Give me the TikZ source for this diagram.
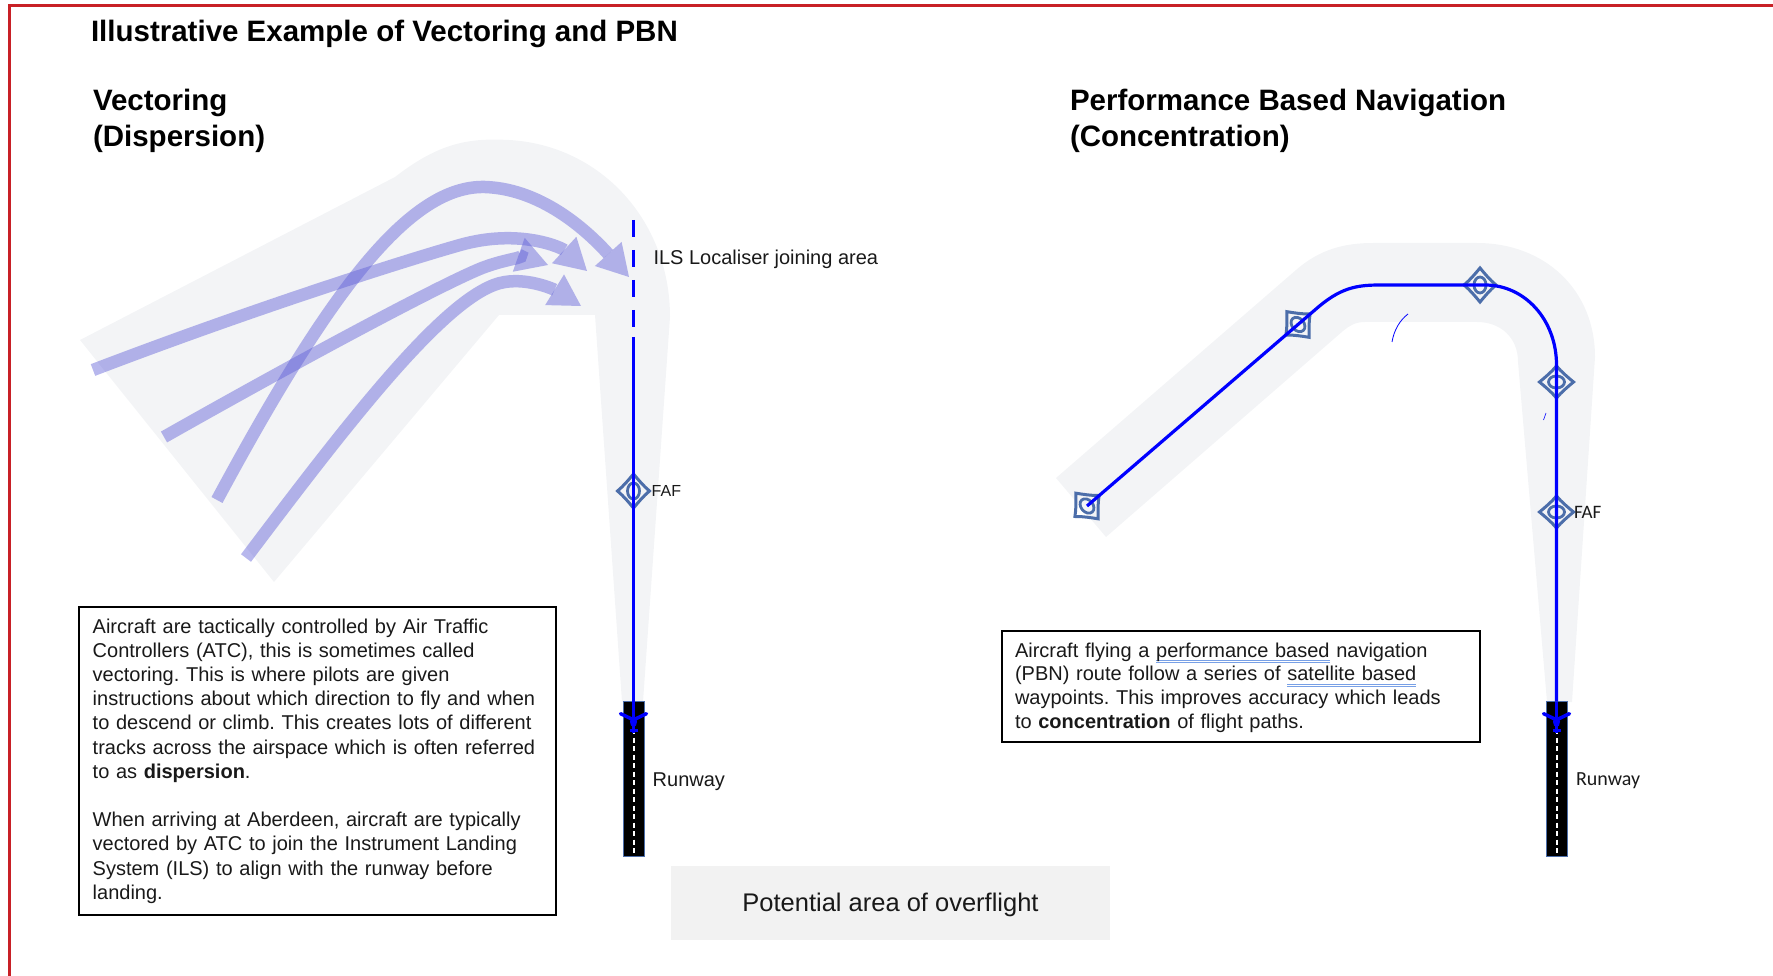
\documentclass[tikz,border=0pt]{standalone}
\usepackage{fontspec}
\setmainfont{Liberation Sans}
\newfontfamily\carlitofont{Carlito}
\usetikzlibrary{arrows.meta}
\definecolor{redborder}{RGB}{200,32,38}
\definecolor{areagray}{RGB}{243,244,246}
\definecolor{boxgray}{RGB}{242,242,242}
\definecolor{routeblue}{RGB}{0,0,255}
\definecolor{wpblue}{RGB}{76,110,170}
\definecolor{vecpurple}{RGB}{95,95,215}
\definecolor{ulblue}{RGB}{120,160,230}
\definecolor{txt}{RGB}{25,25,25}
\newsavebox\ulbox
\newcommand\dblul[1]{\sbox\ulbox{#1}\rlap{\color{ulblue}\rule[-3.6pt]{\wd\ulbox}{0.9pt}}\rlap{\color{ulblue}\rule[-6.2pt]{\wd\ulbox}{0.9pt}}\usebox\ulbox}
\frenchspacing
\begin{document}
\begin{tikzpicture}[x=1pt,y=-1pt,
  hd/.style={anchor=base west, inner sep=0pt, outer sep=0pt, text=black, font=\fontsize{29.5}{35}\selectfont\bfseries},
  lbl/.style={anchor=base west, inner sep=0pt, outer sep=0pt, text=txt, font=\fontsize{20}{24}\selectfont},
  area/.style={fill=areagray, draw=none},
  vec/.style={draw=vecpurple, line width=12.5pt, opacity=0.45, line cap=butt, -{Triangle[length=31pt,width=36pt,line width=0pt 0]}},
  route/.style={draw=routeblue, line width=3.2pt},
  runway/.style={fill=black, draw=wpblue, line width=1pt, minimum width=21pt, minimum height=155pt, anchor=north, inner sep=0pt, outer sep=0pt},
  centre/.style={draw=white, line width=2pt, dash pattern=on 5pt off 3.5pt},
  textframe/.style={draw=black, line width=1.3pt, anchor=north west, inner sep=0pt, outer sep=0pt},
  bodytext/.style={anchor=north west, inner sep=0pt, outer sep=0pt, text=txt, align=left},
  wpt/.pic={
    \draw[wpblue, line width=3pt, line join=miter] (16,0) .. controls (10,5) and (5,11) .. (0,17) .. controls (-5,11) and (-10,5) .. (-16,0) .. controls (-10,-5) and (-5,-11) .. (0,-17) .. controls (5,-11) and (10,-5) .. (16,0) -- cycle;
    \draw[wpblue, line width=2.8pt] (0,0) ellipse (6pt and 8pt);
  },
  plane/.pic={
    \draw[routeblue, line width=3pt] (0,0) -- (0,31);
    \draw[routeblue, line width=3.5pt, line cap=round] (-13,12) .. controls (-6,15) and (-3,17) .. (0,18) .. controls (3,17) and (6,15) .. (13,12);
    \fill[routeblue] (0,20) ellipse (3.5pt and 5.5pt);
    \draw[routeblue, line width=2.5pt] (-4,29) -- (4,29);
  }
]
\useasboundingbox (0,0) rectangle (1773,976);

% shaded areas
\fill[area] (80,340) -- (395,177) .. controls (440,142) and (470,138) .. (509,140) .. controls (600,145) and (670,220) .. (670,317) -- (643,702) -- (622,702) -- (595,315) -- (499,315) -- (274,582) -- cycle;
\fill[area] (1056,478) -- (1296,270) .. controls (1320,249) and (1345,243) .. (1373,243) -- (1477,243) .. controls (1545,243) and (1595,290) .. (1595,357) -- (1572,702) -- (1547,702) -- (1518,362) .. controls (1518,337) and (1500,322) .. (1477,322) -- (1365,322) .. controls (1355,322) and (1349,326) .. (1343,331) -- (1106,537) -- cycle;

% vectoring tracks
\draw[vec] (93,370) .. controls (250,310) and (400,262) .. (460,245) .. controls (520,228) and (562,248) .. (587,271);
\draw[vec] (164,437) .. controls (300,360) and (440,285) .. (482,268) .. controls (508,258) and (528,258) .. (548,265);
\draw[vec] (217,500) .. controls (330,290) and (410,185) .. (485,187) .. controls (545,189) and (592,236) .. (629,277);
\draw[vec] (246,558) .. controls (350,420) and (450,290) .. (505,282) .. controls (530,278) and (555,290) .. (581,306);

% headings
\node[hd] (title) at (91,42) {Illustrative Example of Vectoring and PBN};
\node[hd] (vecA) at (93,111) {Vectoring};
\node[hd] (vecB) at (93,147) {(Dispersion)};
\node[hd] (pbnA) at (1070,111) {Performance Based Navigation};
\node[hd] (pbnB) at (1070,147) {(Concentration)};

% left text box
\node[textframe, minimum width=477pt, minimum height=308pt] (leftbox) at (79,607) {};
\node[bodytext, text width=455pt, font=\fontsize{20}{24.2}\selectfont] (lefttext) at (92.7,618) {\rule{0pt}{15pt}Aircraft are tactically controlled by Air Traffic\\
Controllers (ATC), this is sometimes called\\
vectoring. This is where pilots are given\\
instructions about which direction to fly and when\\
to descend or climb. This creates lots of different\\
tracks across the airspace which is often referred\\
to as \textbf{dispersion}.\\[24.2pt]
When arriving at Aberdeen, aircraft are typically\\
vectored by ATC to join the Instrument Landing\\
System (ILS) to align with the runway before\\
landing.};

% right text box
\node[textframe, minimum width=478pt, minimum height=111pt] (rightbox) at (1002,631) {};
\node[bodytext, text width=455pt, font=\fontsize{20}{23.8}\selectfont] (righttext) at (1015,642) {\rule{0pt}{15pt}Aircraft flying a \dblul{performance based} navigation\\
(PBN) route follow a series of \dblul{satellite based}\\
waypoints. This improves accuracy which leads\\
to \textbf{concentration} of flight paths.};

% overflight legend
\node[fill=boxgray, minimum width=439.5pt, minimum height=74pt, anchor=north west, inner sep=0pt, outer sep=0pt] (overflight) at (670.5,865.5) {};
\node[anchor=base, inner sep=0pt, text=txt, font=\fontsize{25.5}{30}\selectfont] (overflighttext) at (890.5,911) {Potential area of overflight};

% left runway and ILS
\node[runway] (rwyL) at (633.5,701.7) {};
\draw[centre] ([yshift=-2pt]rwyL.north) -- ([yshift=2pt]rwyL.south);
\coordinate (ilsTop) at (633.5,220);
\coordinate (ilsDashEnd) at (633.5,328);
\coordinate (ilsSolid) at (633.5,337);
\coordinate (fafL) at (633.5,491);
\pic at (fafL) {wpt};
\draw[route, dash pattern=on 17pt off 13pt] (ilsTop) -- (ilsDashEnd);
\draw[route] (ilsSolid) -- (rwyL.north);
\pic at (rwyL.north) {plane};
\node[lbl] (ilslabel) at (653.5,265) {ILS Localiser joining area};
\node[lbl, font=\fontsize{16}{19}\selectfont] (faflabelL) at (651.7,496.5) {FAF};
\node[lbl] (rwylabelL) at (652.7,786.5) {Runway};

% right runway and PBN route
\node[runway] (rwyR) at (1556.5,701.7) {};
\draw[centre] ([yshift=-2pt]rwyR.north) -- ([yshift=2pt]rwyR.south);
\coordinate (wp1) at (1087,506);
\coordinate (wp2) at (1298,324.5);
\coordinate (wp3) at (1480,285);
\coordinate (wp4) at (1556.5,382);
\coordinate (fafR) at (1556.5,512);
\pic[rotate=41] at (wp1) {wpt};
\pic[rotate=41] at (wp2) {wpt};
\pic at (wp3) {wpt};
\pic[rotate=90] at (wp4) {wpt};
\pic[rotate=90] at (fafR) {wpt};
\draw[route] (wp1) -- (1316,309) .. controls (1340,288) and (1356,285) .. (1380,285) -- (wp3) -- (1485,285) .. controls (1525,285) and (1556.5,320) .. (1556.5,365) -- (wp4) -- (fafR) -- (rwyR.north);
\pic at (rwyR.north) {plane};
\draw[routeblue, line width=0.8pt] (1392,342) .. controls (1394,330) and (1400,320) .. (1408,314);
\draw[routeblue, line width=0.6pt] (1543.5,420) -- (1546,413);
\node[lbl, font=\fontsize{19}{23}\carlitofont] (faflabelR) at (1574,518) {FAF};
\node[lbl, font=\fontsize{20}{24}\carlitofont] (rwylabelR) at (1576,785) {Runway};

% frame
\draw[redborder, line width=2.5pt] (9.5,976) -- (9.5,5.5) -- (1773,5.5);
\end{tikzpicture}
\end{document}
